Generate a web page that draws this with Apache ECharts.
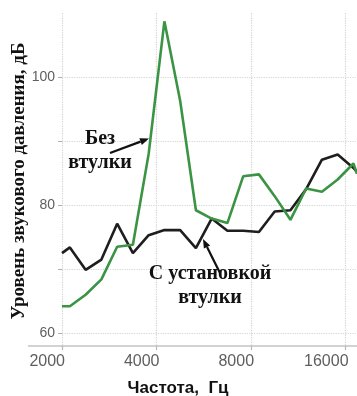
<!DOCTYPE html>
<html>
<head>
<meta charset="utf-8">
<script src="https://cdn.jsdelivr.net/npm/echarts@6/dist/echarts.min.js"></script>
<style>
  html, body { margin: 0; padding: 0; background: #fff; }
  #chart { width: 357px; height: 396px; }
</style>
</head>
<body>
<div id="chart"></div>
<script>
// Frequencies of the measured points, Hz (1/6-octave steps)
const freqHz = [2000, 2119, 2378, 2670, 2997, 3364, 3776, 4238, 4757, 5339, 5993,
                6727, 7551, 8476, 9514, 10679, 11986, 13454, 15102, 16951, 17400];

// Sound pressure level without the bushing, dB
const levelWithout = [64.2, 64.2, 66.0, 68.4, 73.5, 73.8, 88.0, 108.7, 96.3, 79.2, 77.9,
                      77.2, 84.5, 84.8, 81.4, 77.7, 82.6, 82.1, 84.0, 86.5, 84.9];

// Sound pressure level with the bushing installed, dB
const levelWith = [72.5, 73.4, 69.9, 71.5, 77.1, 72.5, 75.3, 76.1, 76.1, 73.3, 77.9,
                   76.0, 76.0, 75.8, 79.0, 79.2, 82.5, 87.1, 87.9, 85.8, 85.2];

// Axis ticks and labels
const freqTicks = [2000, 4000, 8000, 16000];
const freqMin = 2000;
const freqMax = 17400;
const levelTicks = [60, 70, 80, 90, 100];
const levelLabels = [60, 80, 100];
const levelMin = 58;
const levelMax = 110;

// Frequency axis is logarithmic (octaves): position = log2(f / 1000)
const oct = f => Math.log2(f / 1000);

const toPairs = (xs, ys) => xs.map((f, i) => [oct(f), ys[i]]);

const chart = echarts.init(document.getElementById('chart'), null, { renderer: 'canvas' });

function arrow(x1, y1, x2, y2) {
  const ang = Math.atan2(y2 - y1, x2 - x1);
  const len = 9, half = 3.5;
  const bx = x2 - len * Math.cos(ang), by = y2 - len * Math.sin(ang);
  const px = -Math.sin(ang) * half, py = Math.cos(ang) * half;
  return [
    { type: 'line', shape: { x1: x1, y1: y1, x2: bx, y2: by },
      style: { stroke: '#111', lineWidth: 2.2 }, z: 20 },
    { type: 'polygon', shape: { points: [[x2, y2], [bx + px, by + py], [bx - px, by - py]] },
      style: { fill: '#111' }, z: 20 }
  ];
}

const labelFont = { fontFamily: '"Liberation Serif", "DejaVu Serif", serif', fontWeight: 'bold' };

chart.setOption({
  animation: false,
  grid: { left: 62, right: 0, top: 13, bottom: 50 },
  xAxis: {
    type: 'value',
    min: oct(freqMin),
    max: oct(freqMax),
    interval: 1,
    axisLine: { show: true, lineStyle: { color: '#c4c4c4', width: 1.6 } },
    axisTick: { show: true, length: 4, lineStyle: { color: '#b8b8b8', width: 1.2 },
                customValues: freqTicks.map(oct) },
    axisLabel: {
      customValues: freqTicks.map(oct),
      formatter: v => String(Math.round(1000 * Math.pow(2, v))),
      color: '#5e5e5e',
      fontFamily: '"Liberation Sans", Arial, sans-serif',
      fontSize: 16,
      align: 'right',
      margin: 8,
      padding: [0, -3, 0, 0]
    },
    splitLine: { show: true, lineStyle: { color: '#d2d2d2', type: 'dotted', width: 1.2 } }
  },
  yAxis: {
    type: 'value',
    min: levelMin,
    max: levelMax,
    axisLine: { show: false },
    axisTick: { show: true, length: 4, lineStyle: { color: '#b0b0b0' },
                customValues: levelTicks },
    axisLabel: {
      customValues: levelLabels,
      color: '#5e5e5e',
      fontFamily: '"Liberation Sans Narrow", "Liberation Sans", Arial, sans-serif',
      fontSize: 14,
      margin: 7
    },
    splitLine: { show: true, lineStyle: { color: '#d6d6d6', type: 'dotted', width: 1.2 } }
  },
  series: [
    {
      name: 'С установкой втулки',
      type: 'line',
      data: toPairs(freqHz, levelWith),
      showSymbol: false,
      lineStyle: { color: '#1e1e1e', width: 2.6 },
      z: 3
    },
    {
      name: 'Без втулки',
      type: 'line',
      data: toPairs(freqHz, levelWithout),
      showSymbol: false,
      lineStyle: { color: '#3a9444', width: 2.6 },
      z: 4
    }
  ],
  graphic: [
    // left extension of the frequency axis line
    { type: 'line', shape: { x1: 28, y1: 346, x2: 62, y2: 346 },
      style: { stroke: '#c4c4c4', lineWidth: 1.6 } },
    // axis titles
    { type: 'text', x: 19, y: 181, rotation: Math.PI / 2,
      style: Object.assign({ text: 'Уровень звукового давления, дБ', fontSize: 19,
        fill: '#111', align: 'center', verticalAlign: 'middle' }, labelFont) },
    { type: 'text', x: 178, y: 388,
      style: { text: 'Частота,  Гц', fontSize: 17, fontWeight: 'bold',
        fontFamily: '"Liberation Sans", Arial, sans-serif',
        fill: '#111', align: 'center', verticalAlign: 'middle' } },
    // curve annotations
    { type: 'text', x: 100, y: 151, z: 20,
      style: Object.assign({ text: 'Без\nвтулки', fontSize: 20, lineHeight: 24,
        fill: '#111', align: 'center', verticalAlign: 'middle' }, labelFont) },
    { type: 'text', x: 210, y: 286, z: 20,
      style: Object.assign({ text: 'С установкой\nвтулки', fontSize: 20, lineHeight: 24,
        fill: '#111', align: 'center', verticalAlign: 'middle' }, labelFont) }
  ]
    .concat(arrow(110, 153, 149, 138.5))
    .concat(arrow(220, 273, 203, 239))
});
</script>
</body>
</html>
